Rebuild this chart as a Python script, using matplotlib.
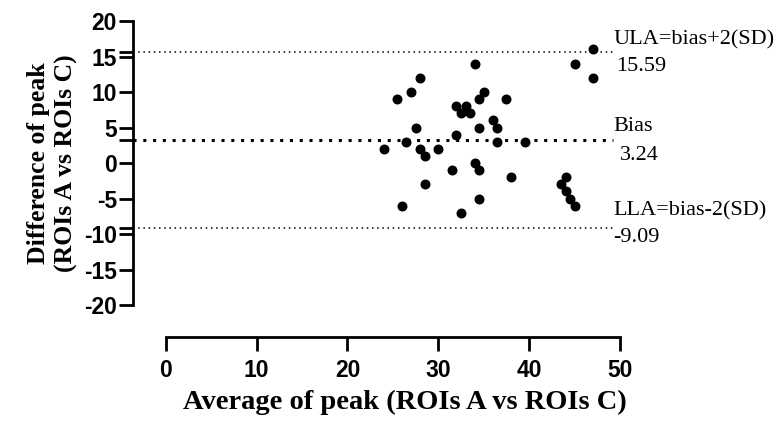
import numpy as np
import matplotlib
matplotlib.use("Agg")
from matplotlib import pyplot as plt

plt.rcParams["axes.unicode_minus"] = False

# Bland-Altman data: average vs difference of peak
avg_peak = [47, 34, 45, 47, 28, 27, 25.5, 35, 34.5, 37.5, 32, 33, 32.5, 33.5,
            36, 36.5, 27.5, 34.5, 32, 26.5, 36.5, 39.5, 24, 28, 30, 28.5, 34,
            31.5, 34.5, 38, 44, 43.5, 28.5, 44, 44.5, 34.5, 26, 45, 32.5]
diff_peak = [16, 14, 14, 12, 12, 10, 9, 10, 9, 9, 8, 8, 7, 7,
             6, 5, 5, 5, 4, 3, 3, 3, 2, 2, 2, 1, 0,
             -1, -1, -2, -2, -3, -3, -4, -5, -5, -6, -6, -7]
bias = 3.24
ula = 15.59
lla = -9.09
line_labels = ["ULA=bias+2(SD)", "Bias", "LLA=bias-2(SD)"]
line_values = ["15.59", "3.24", "-9.09"]

fig = plt.figure(figsize=(7.76, 4.21), dpi=100)
ax = fig.add_axes([0.1714, 0.2755, 0.6276, 0.6745])

ax.scatter(avg_peak, diff_peak, s=38, color="black", zorder=3)

ax.axhline(ula, xmin=0, xmax=0.985, color="black", lw=1.1, linestyle=(0, (1, 2.4)))
ax.axhline(lla, xmin=0, xmax=0.985, color="black", lw=1.1, linestyle=(0, (1, 2.4)))
ax.axhline(bias, xmin=0, xmax=0.985, color="black", lw=2.2, linestyle=(0, (1, 2.2)))

ax.set_xlim(-3.6, 50)
ax.set_ylim(-20, 20)
ax.set_xticks(np.arange(0, 51, 10))
ax.set_yticks(np.arange(-20, 21, 5))
ax.set_yticks([ula, bias, lla], minor=True)

for s in ["top", "right"]:
    ax.spines[s].set_visible(False)
ax.spines["left"].set_linewidth(2)
ax.spines["bottom"].set_linewidth(2)
ax.spines["bottom"].set_position(("outward", 23))
ax.spines["bottom"].set_bounds(0, 50)

ax.tick_params(axis="both", which="both", width=2, length=10, labelsize=16.5)
ax.tick_params(axis="y", pad=1.5)
ax.tick_params(axis="x", pad=6)
for lbl in ax.get_xticklabels() + ax.get_yticklabels():
    lbl.set_fontfamily("Liberation Sans")
    lbl.set_fontweight("bold")

serif = "Liberation Serif"
ax.set_xlabel("Average of peak (ROIs A vs ROIs C)", fontsize=20.5, fontweight="bold",
              family=serif)
ax.xaxis.set_label_coords(0.558, -0.30)
ax.set_ylabel("Difference of peak\n(ROIs A vs ROIs C)", fontsize=18.5, fontweight="bold",
              family=serif, labelpad=4, linespacing=1.3)

ys = [ula, bias, lla]
name_off = [(-5, 9), (-5, 10), (-5, 12)]
val_off = [(-3, -10), (0, -11), (-5, -7)]
for name, val, y, no, vo in zip(line_labels, line_values, ys, name_off, val_off):
    ax.annotate(name, xy=(1.0, y), xycoords=("axes fraction", "data"),
                xytext=no, textcoords="offset points",
                ha="left", va="center", fontsize=16, family=serif)
    ax.annotate(val, xy=(1.0, y), xycoords=("axes fraction", "data"),
                xytext=vo, textcoords="offset points",
                ha="left", va="center", fontsize=16, family=serif)

fig.savefig("out.png", dpi=100)
